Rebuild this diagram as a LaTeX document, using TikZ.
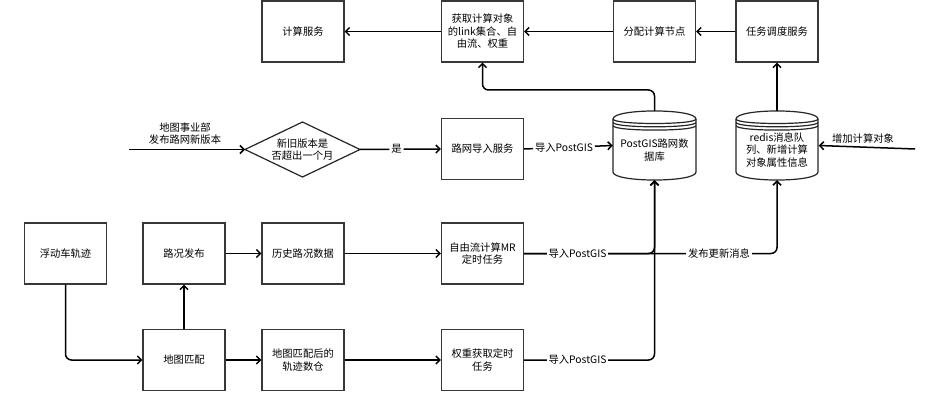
\documentclass[tikz,border=0pt]{standalone}
\usepackage{fontspec}
\setmainfont{Noto Sans CJK SC}
\usetikzlibrary{arrows.meta,calc}
\begin{document}
\begin{tikzpicture}[x=1pt,y=-1pt,
  txt/.style={font=\fontsize{10.3}{12.5}\selectfont, align=center},
  box/.style={txt, draw=black!78, line width=1.2pt, fill=white, minimum width=82pt, minimum height=61pt, inner sep=2pt},
  dbnode/.style={txt, minimum width=83pt, minimum height=69pt, inner sep=0pt},
  conn/.style={draw=black, line width=1.5pt, rounded corners=6pt, -{Straight Barb[length=4pt,width=8pt]}},
  lbl/.style={txt, fill=white, inner sep=2pt},
  dbshape/.style={draw=black!85, line width=1.2pt}
]
\useasboundingbox (0,0) rectangle (939,406);
\fill[white] (0,0) rectangle (939,406);

% top row
\node[box] (calc) at (303,31.5) {计算服务};
\node[box] (fetch) at (482.5,31.5) {获取计算对象\\的link集合、自\\由流、权重};
\node[box] (alloc) at (654.5,31.5) {分配计算节点};
\node[box] (sched) at (777,31.5) {任务调度服务};

% second row
\coordinate (dl) at (245,149.5);
\coordinate (dr) at (360,149.5);
\coordinate (dt) at (302.5,122);
\coordinate (db) at (302.5,177);
\draw[draw=black!85, line width=1.2pt, fill=white] (dl) -- (dt) -- (dr) -- (db) -- cycle;
\node[txt] (diam) at (302.5,149.5) {新旧版本是\\否超出一个月};
\node[box] (import) at (482.5,149) {路网导入服务};

% cylinders
\newcommand{\dbcyl}[2]{% left, right
  \draw[dbshape, fill=white] (#1,119) .. controls (#1,108.3) and (#2,108.3) .. (#2,119)
     -- (#2,172) .. controls (#2,182.7) and (#1,182.7) .. (#1,172) -- cycle;
  \draw[dbshape] (#1,119) .. controls (#1,125) and (#2,125) .. (#2,119);
  \draw[dbshape] (#1,122.3) .. controls (#1,128.3) and (#2,128.3) .. (#2,122.3);
  \draw[dbshape] (#1,125.6) .. controls (#1,131.6) and (#2,131.6) .. (#2,125.6);
}
\dbcyl{613}{696}
\dbcyl{736}{818}
\node[dbnode] (pg) at (654.5,145.5) {};
\node[txt] (pgtext) at (654.5,150) {PostGIS路网数\\据库};
\node[dbnode] (redis) at (777,145.5) {};
\node[txt] (rdtext) at (777,150) {redis消息队\\列、新增计算\\对象属性信息};

% lower rows
\node[box] (float) at (65.5,253.5) {浮动车轨迹};
\node[box] (lk) at (184,253.5) {路况发布};
\node[box] (hist) at (303,253.5) {历史路况数据};
\node[box] (free) at (482.5,253.5) {自由流计算MR\\定时任务};
\node[box] (match) at (184,360) {地图匹配};
\node[box] (ware) at (303,360) {地图匹配后的\\轨迹数仓};
\node[box] (weight) at (482.5,360) {权重获取定时\\任务};

\coordinate (inL) at (129,149.5);
\coordinate (inR) at (915,149);
\coordinate (kpg) at (0,90);

% connectors
\draw[conn] (fetch.west) -- (calc.east);
\draw[conn] (alloc.west) -- (fetch.east);
\draw[conn] (sched.west) -- (alloc.east);
\draw[conn] (redis.north) -- (sched.south);
\draw[conn] (pg.north) |- (fetch.south |- kpg) -- (fetch.south);

\draw[conn] (inL) -- (dl);
\node[txt] (inlbl) at (185,133.5) {地图事业部\\发布路网新版本};
\draw[conn] (dr) -- (import.west) node[lbl, pos=0.45] {是};
\draw[conn] (import.east) -- (pg.west) node[lbl, pos=0.45] {导入PostGIS};
\draw[conn] (inR) -- (redis.east);
\node[txt] (inrlbl) at (863,139) {增加计算对象};

\draw[conn] (float.south) |- (match.west);
\draw[conn] (match.north) -- (lk.south);
\draw[conn] (lk.east) -- (hist.west);
\draw[conn] (hist.east) -- (free.west);
\draw[conn] (match.east) -- (ware.west);
\draw[conn] (ware.east) -- (weight.west);

\draw[conn] (free.east) -| (redis.south);
\node[lbl] at (719,253.5) {发布更新消息};
\draw[conn] (free.east) -| (pg.south);
\node[lbl] at (577.5,253.5) {导入PostGIS};
\draw[conn] (weight.east) -| (pg.south);
\node[lbl] at (577.5,360) {导入PostGIS};
\end{tikzpicture}
\end{document}
